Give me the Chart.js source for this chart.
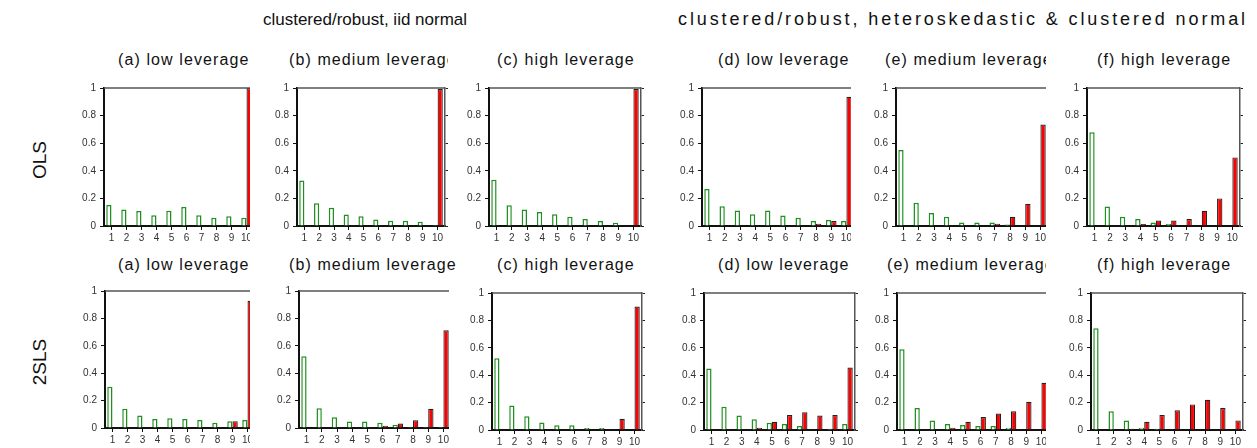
<!DOCTYPE html>
<html>
<head>
<meta charset="utf-8">
<script src="https://cdn.jsdelivr.net/npm/chart.js@4.4.0/dist/chart.umd.min.js"></script>
<style>
  body { margin: 0; background: #fff; }
  #page { position: relative; width: 1257px; height: 448px; overflow: hidden;
          font-family: "Liberation Sans", Arial, sans-serif; color: #111; }
  .head { position: absolute; font-size: 17px; white-space: nowrap; transform: translateX(-50%); }
  .ptitle { position: absolute; font-size: 16px; white-space: nowrap; overflow: hidden; letter-spacing: 1.1px; }
  .row { position: absolute; font-size: 19px; white-space: nowrap; transform: translate(-50%, -50%) rotate(-90deg); }
  .wrap { position: absolute; overflow: hidden; }
</style>
</head>
<body>
<div id="page">
  <div class="head" style="left:365px; top:10px;">clustered/robust, iid normal</div>
  <div class="head" style="left:963px; top:9px; font-size:18px; letter-spacing:2.9px;">clustered/robust, heteroskedastic &amp; clustered normal</div>
  <div class="row" style="left:40px; top:160px;">OLS</div>
  <div class="row" style="left:40px; top:362px;">2SLS</div>
</div>
<script>
// categories and y-axis tick labels
const categories = ['1', '2', '3', '4', '5', '6', '7', '8', '9', '10'];
const yTickLabels = ['0', '0.2', '0.4', '0.6', '0.8', '1'];

// OLS, iid normal (green = outline bars, red = filled bars)
const olsIidLowG  = [0.152, 0.12, 0.108, 0.077, 0.111, 0.137, 0.077, 0.06, 0.07, 0.06];
const olsIidLowR  = [0, 0, 0, 0, 0, 0, 0, 0, 0, 1.0];
const olsIidMedG  = [0.33, 0.164, 0.133, 0.083, 0.071, 0.048, 0.038, 0.038, 0.031, 0.007];
const olsIidMedR  = [0, 0, 0, 0, 0, 0, 0, 0, 0, 0.993];
const olsIidHighG = [0.336, 0.15, 0.119, 0.102, 0.086, 0.067, 0.05, 0.036, 0.024, 0];
const olsIidHighR = [0, 0, 0, 0, 0, 0, 0, 0, 0, 0.993];

// OLS, heteroskedastic & clustered normal
const olsHetLowG  = [0.269, 0.143, 0.112, 0.086, 0.112, 0.076, 0.06, 0.036, 0.043, 0.036];
const olsHetLowR  = [0, 0, 0, 0, 0, 0, 0, 0.017, 0.036, 0.936];
const olsHetMedG  = [0.55, 0.169, 0.095, 0.067, 0.026, 0.026, 0.026, 0.01, 0, 0];
const olsHetMedR  = [0, 0, 0, 0, 0, 0, 0.017, 0.067, 0.16, 0.736];
const olsHetHighG = [0.68, 0.141, 0.067, 0.05, 0.026, 0.014, 0, 0, 0, 0];
const olsHetHighR = [0, 0, 0, 0.014, 0.04, 0.04, 0.05, 0.11, 0.2, 0.497];

// 2SLS, iid normal
const tslsIidLowG  = [0.302, 0.141, 0.091, 0.065, 0.072, 0.065, 0.058, 0.038, 0.05, 0.058];
const tslsIidLowR  = [0, 0, 0, 0, 0, 0, 0, 0, 0.05, 0.928];
const tslsIidMedG  = [0.524, 0.145, 0.079, 0.048, 0.048, 0.038, 0.024, 0.007, 0.007, 0.007];
const tslsIidMedR  = [0, 0, 0, 0, 0.007, 0.017, 0.033, 0.057, 0.14, 0.714];
const tslsIidHighG = [0.524, 0.178, 0.101, 0.055, 0.034, 0.034, 0.014, 0.014, 0, 0];
const tslsIidHighR = [0, 0, 0, 0, 0, 0, 0, 0, 0.082, 0.901];

// 2SLS, heteroskedastic & clustered normal
const tslsHetLowG  = [0.448, 0.17, 0.106, 0.079, 0.053, 0.043, 0.029, 0, 0.01, 0.043];
const tslsHetLowR  = [0, 0, 0, 0.017, 0.06, 0.11, 0.13, 0.106, 0.11, 0.456];
const tslsHetMedG  = [0.59, 0.161, 0.07, 0.043, 0.036, 0.029, 0.029, 0.017, 0, 0];
const tslsHetMedR  = [0, 0, 0, 0.017, 0.06, 0.094, 0.12, 0.137, 0.206, 0.345];
const tslsHetHighG = [0.743, 0.137, 0.07, 0.017, 0.01, 0, 0, 0, 0, 0];
const tslsHetHighR = [0, 0, 0.01, 0.06, 0.11, 0.144, 0.187, 0.221, 0.161, 0.07];

// panel layout: x of y-axis, plot top, plot width/height, optional clip edge, title x
const panels = [
  { t: '(a) low leverage',    g: olsIidLowG,  r: olsIidLowR,  x: 104,  y: 86,  w: 150, h: 140, clip: 250,  tx: 118,  ty: 51 },
  { t: '(b) medium leverage', g: olsIidMedG,  r: olsIidMedR,  x: 297,  y: 86,  w: 148, h: 140, clip: null, tx: 289,  ty: 51, tclip: 448 },
  { t: '(c) high leverage',   g: olsIidHighG, r: olsIidHighR, x: 489,  y: 86,  w: 152, h: 140, clip: null, tx: 497,  ty: 51 },
  { t: '(d) low leverage',    g: olsHetLowG,  r: olsHetLowR,  x: 702,  y: 86,  w: 152, h: 140, clip: 851,  tx: 718,  ty: 51 },
  { t: '(e) medium leverage', g: olsHetMedG,  r: olsHetMedR,  x: 896,  y: 86,  w: 152, h: 140, clip: 1046, tx: 885,  ty: 51, tclip: 1046 },
  { t: '(f) high leverage',   g: olsHetHighG, r: olsHetHighR, x: 1087, y: 86,  w: 153, h: 140, clip: null, tx: 1097, ty: 51 },
  { t: '(a) low leverage',    g: tslsIidLowG,  r: tslsIidLowR,  x: 105,  y: 289, w: 150, h: 139, clip: 250,  tx: 118,  ty: 256 },
  { t: '(b) medium leverage', g: tslsIidMedG,  r: tslsIidMedR,  x: 299,  y: 289, w: 152, h: 139, clip: 449,  tx: 289,  ty: 256 },
  { t: '(c) high leverage',   g: tslsIidHighG, r: tslsIidHighR, x: 492,  y: 291, w: 150, h: 139, clip: null, tx: 497,  ty: 256 },
  { t: '(d) low leverage',    g: tslsHetLowG,  r: tslsHetLowR,  x: 704,  y: 291, w: 151, h: 139, clip: null, tx: 718,  ty: 256 },
  { t: '(e) medium leverage', g: tslsHetMedG,  r: tslsHetMedR,  x: 897,  y: 291, w: 152, h: 139, clip: 1046, tx: 887,  ty: 256, tclip: 1046 },
  { t: '(f) high leverage',   g: tslsHetHighG, r: tslsHetHighR, x: 1091, y: 291, w: 152, h: 139, clip: null, tx: 1097, ty: 256 }
];

const Y_W = 30, Y2_W = 8, X_H = 22, PAD_T = 8;

// grey top frame line
const frameTop = {
  id: 'frameTop',
  afterDraw(chart) {
    const a = chart.chartArea, ctx = chart.ctx;
    ctx.save();
    ctx.strokeStyle = '#555';
    ctx.lineWidth = 1.5;
    ctx.beginPath();
    ctx.moveTo(a.left, a.top);
    ctx.lineTo(a.right, a.top);
    ctx.stroke();
    ctx.restore();
  }
};

const page = document.getElementById('page');

panels.forEach(p => {
  // title
  const tt = document.createElement('div');
  tt.className = 'ptitle';
  tt.textContent = p.t;
  tt.style.left = p.tx + 'px';
  tt.style.top = p.ty + 'px';
  if (p.tclip) tt.style.width = (p.tclip - p.tx) + 'px';
  page.appendChild(tt);

  // canvas
  const left = p.x - Y_W, top = p.y - PAD_T;
  const cw = Y_W + p.w + Y2_W, ch = PAD_T + p.h + X_H;
  const wrap = document.createElement('div');
  wrap.className = 'wrap';
  wrap.style.left = left + 'px';
  wrap.style.top = top + 'px';
  wrap.style.width = (p.clip ? p.clip - left : cw) + 'px';
  wrap.style.height = ch + 'px';
  const cv = document.createElement('canvas');
  cv.width = cw;
  cv.height = ch;
  wrap.appendChild(cv);
  page.appendChild(wrap);

  new Chart(cv, {
    type: 'bar',
    data: {
      labels: categories,
      datasets: [
        { data: p.g, backgroundColor: '#fff', borderColor: '#1f8f1f', borderWidth: 1.5 },
        { data: p.r, backgroundColor: '#ff0000', borderColor: '#222', borderWidth: 1.2 }
      ]
    },
    options: {
      responsive: false,
      animation: false,
      events: [],
      categoryPercentage: 0.7,
      barPercentage: 1.0,
      layout: { padding: { top: PAD_T, left: 0, right: 0, bottom: 0 } },
      plugins: { legend: { display: false }, tooltip: { enabled: false } },
      scales: {
        x: {
          grid: { display: true, drawOnChartArea: false, offset: false, tickLength: 4, color: '#111', lineWidth: 1 },
          border: { color: '#111', width: 2 },
          ticks: { color: '#333', font: { size: 10, family: 'Liberation Sans' }, padding: 2, maxRotation: 0, autoSkip: false },
          afterFit: s => { s.height = X_H; }
        },
        y: {
          min: 0, max: 1,
          grid: { display: true, drawOnChartArea: false, tickLength: 4, color: '#111', lineWidth: 1 },
          border: { color: '#111', width: 2 },
          ticks: {
            stepSize: 0.1, color: '#333', font: { size: 10, family: 'Liberation Sans' }, padding: 4,
            callback: v => { const i = Math.round(v * 10); return i % 2 === 0 ? yTickLabels[i / 2] : ''; }
          },
          afterFit: s => { s.width = Y_W; }
        },
        y2: {
          position: 'right', min: 0, max: 1,
          grid: { display: true, drawOnChartArea: false, tickLength: 3, color: '#222', lineWidth: 1 },
          border: { color: '#555', width: 1.5 },
          ticks: { stepSize: 0.1, callback: () => '', padding: 0 },
          afterFit: s => { s.width = Y2_W; }
        }
      }
    },
    plugins: [frameTop]
  });
});
</script>
</body>
</html>
